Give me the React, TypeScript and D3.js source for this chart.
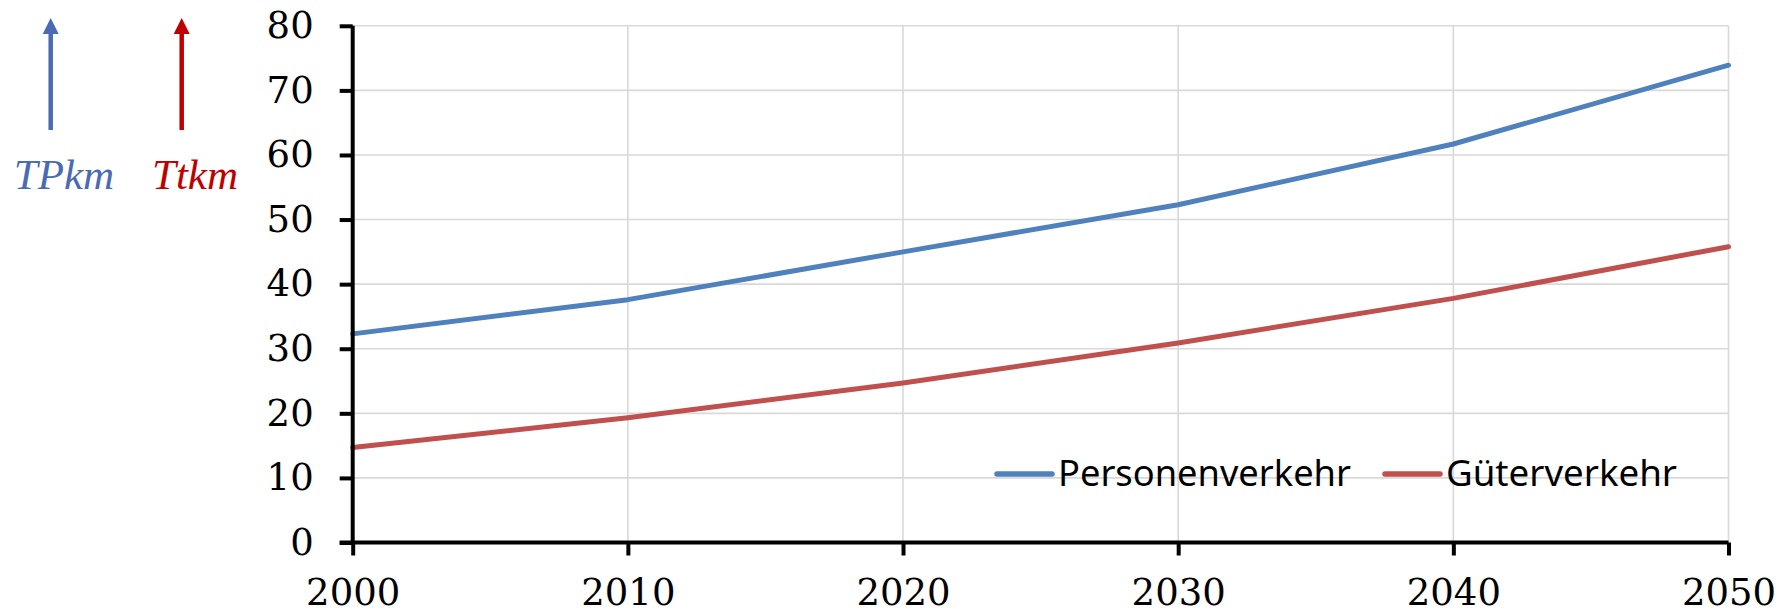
import { useEffect, useRef } from 'react';
import * as d3 from 'd3';

const years = [2000, 2010, 2020, 2030, 2040, 2050];
const personenverkehr = [32.3, 37.6, 45.0, 52.3, 61.7, 73.9];
const gueterverkehr = [14.7, 19.3, 24.7, 30.9, 37.8, 45.8];
const yTicks = [0, 10, 20, 30, 40, 50, 60, 70, 80];
const seriesNames = ['Personenverkehr', 'Güterverkehr'];
const seriesColors = ['#4f81bd', '#c0504d'];
const unitLabels = ['TPkm', 'Ttkm'];
const unitColors = ['#4a6ab4', '#c00000'];

export default function App() {
    const svgRef = useRef<SVGSVGElement>(null);

    useEffect(() => {
        if (!svgRef.current) return;
        const width = 1790;
        const height = 616;
        const svg = d3.select(svgRef.current);
        svg.selectAll('*').remove();
        svg.attr('viewBox', `0 0 ${width} ${height}`);

        const x = d3.scaleLinear().domain([2000, 2050]).range([352.7, 1728.5]);
        const y = d3.scaleLinear().domain([0, 80]).range([542.5, 25.8]);

        // gridlines
        const grid = svg.append('g').attr('stroke', '#d9d9d9').attr('stroke-width', 1.6);
        grid.selectAll('.hg')
            .data(yTicks.filter(t => t > 0))
            .enter()
            .append('line')
            .attr('x1', x(2000))
            .attr('x2', x(2050))
            .attr('y1', d => y(d))
            .attr('y2', d => y(d));
        grid.selectAll('.vg')
            .data(years.filter(t => t > 2000))
            .enter()
            .append('line')
            .attr('x1', d => x(d))
            .attr('x2', d => x(d))
            .attr('y1', y(80))
            .attr('y2', y(0));

        // series
        const line = d3.line<number>()
            .x((_, i) => x(years[i]))
            .y(d => y(d));
        [personenverkehr, gueterverkehr].forEach((s, i) => {
            svg.append('path')
                .datum(s)
                .attr('d', line)
                .attr('fill', 'none')
                .attr('stroke', seriesColors[i])
                .attr('stroke-width', 5)
                .attr('stroke-linejoin', 'round')
                .attr('stroke-linecap', 'round');
        });

        // axes
        const yAxis = d3.axisLeft(y).tickValues(yTicks).tickSize(13).tickPadding(26).tickFormat(d3.format('d'));
        const yg = svg.append('g').attr('transform', `translate(${x(2000)},0)`).call(yAxis);
        const xAxis = d3.axisBottom(x).tickValues(years).tickSize(13).tickPadding(18).tickFormat(d3.format('d'));
        const xg = svg.append('g').attr('transform', `translate(0,${y(0)})`).call(xAxis);
        [yg, xg].forEach(g => {
            g.select('.domain').attr('stroke', '#000').attr('stroke-width', 4);
            g.selectAll('.tick line').attr('stroke', '#000').attr('stroke-width', 4);
            g.selectAll('.tick text')
                .attr('fill', '#000')
                .attr('font-family', '"DejaVu Serif", serif')
                .attr('font-size', 37);
        });
        yg.select('.domain').attr('d', `M0,${y(80)}V${y(0)}`);
        xg.select('.domain').attr('d', `M${x(2000) - 13},0H${x(2050)}`);
        xg.selectAll('.tick text').attr('dy', '0.84em');

        // legend
        const legendX = [997, 1385];
        const legendW = [293, 231];
        seriesNames.forEach((name, i) => {
            const g = svg.append('g').attr('transform', `translate(${legendX[i]},474)`);
            g.append('line')
                .attr('x1', 0).attr('x2', 55)
                .attr('stroke', seriesColors[i])
                .attr('stroke-width', 5.5)
                .attr('stroke-linecap', 'round');
            g.append('text')
                .attr('x', 61)
                .attr('y', 12)
                .attr('font-family', '"Noto Sans", sans-serif')
                .attr('font-size', 37)
                .attr('textLength', legendW[i])
                .attr('lengthAdjust', 'spacingAndGlyphs')
                .attr('fill', '#000')
                .text(name);
        });

        // unit arrows
        const arrowX = [50.7, 181.7];
        const labelX = [64, 195];
        unitLabels.forEach((lab, i) => {
            const c = unitColors[i];
            svg.append('line')
                .attr('x1', arrowX[i]).attr('x2', arrowX[i])
                .attr('y1', 130).attr('y2', 30)
                .attr('stroke', c)
                .attr('stroke-width', 4.5);
            svg.append('path')
                .attr('d', `M${arrowX[i]},18 L${arrowX[i] + 8},34 L${arrowX[i] - 8},34 Z`)
                .attr('fill', c);
            svg.append('text')
                .attr('x', labelX[i])
                .attr('y', 189)
                .attr('text-anchor', 'middle')
                .attr('font-family', '"Liberation Serif", serif')
                .attr('font-style', 'italic')
                .attr('font-size', 43)
                .attr('fill', c)
                .text(lab);
        });
    }, []);

    return (
        <div style={{ position: 'absolute', left: 0, top: 0, width: 1790, height: 616, background: '#fff' }}>
            <svg ref={svgRef} width={1790} height={616} style={{ display: 'block' }} />
        </div>
    );
}
